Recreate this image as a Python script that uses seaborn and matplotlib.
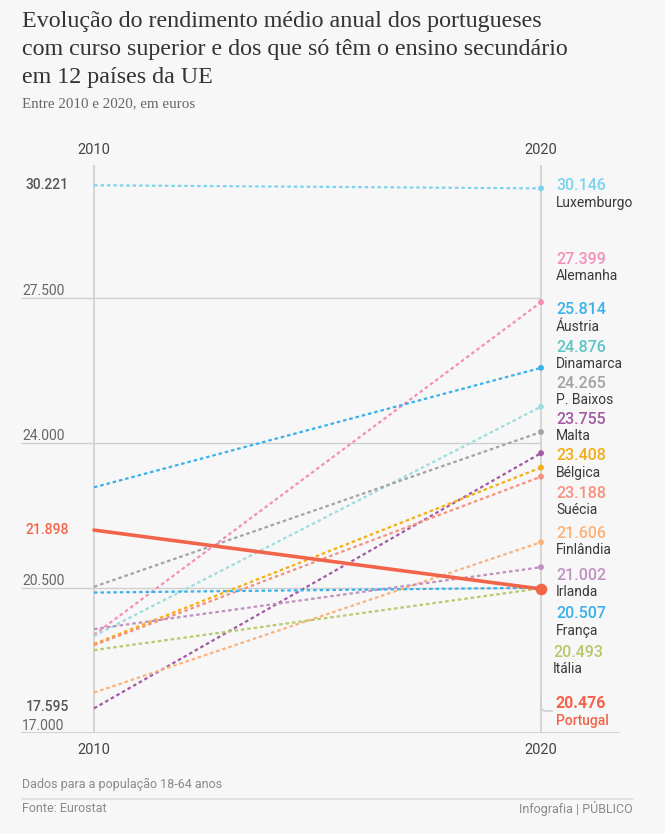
import matplotlib
matplotlib.use("Agg")
import matplotlib.pyplot as plt
import seaborn as sns
import pandas as pd
from matplotlib.path import Path
from matplotlib.patches import PathPatch

# ---------------- data ----------------
paises = ["Luxemburgo", "Alemanha", "Áustria", "Dinamarca", "P. Baixos", "Malta",
          "Bélgica", "Suécia", "Finlândia", "Irlanda", "França", "Itália", "Portugal"]
valores_2010 = [30221, 19370, 22930, 19340, 20530, 17595,
                19150, 19120, 17975, 19510, 20390, 19000, 21898]
valores_2020 = [30146, 27399, 25814, 24876, 24265, 23755,
                23408, 23188, 21606, 21002, 20507, 20493, 20476]
anos = [2010, 2020]
grelha = [17000, 20500, 24000, 27500]
grelha_labels = ["17.000", "20.500", "24.000", "27.500"]

cores_texto = {"Luxemburgo": "#7fd2ee", "Alemanha": "#f58fb9", "Áustria": "#3ab1ea",
               "Dinamarca": "#5cc4c6", "P. Baixos": "#a3a3a3", "Malta": "#a25aa1",
               "Bélgica": "#f1ae1c", "Suécia": "#f6917f", "Finlândia": "#fbb27a",
               "Irlanda": "#c190c2", "França": "#3ab1ea", "Itália": "#b6c96b",
               "Portugal": "#f2644a"}
cores_linha = dict(cores_texto)
cores_linha["Dinamarca"] = "#9fdcdc"

# label positions (pixel rows of the value text) on the right
label_px = {"Luxemburgo": 186, "Alemanha": 259, "Áustria": 310, "Dinamarca": 347,
            "P. Baixos": 383, "Malta": 419, "Bélgica": 456, "Suécia": 493,
            "Finlândia": 533, "Irlanda": 575, "França": 614, "Itália": 652,
            "Portugal": 704}

def fmt(v):
    return f"{v:,}".replace(",", ".")

rows = []
for p, a, b in zip(paises, valores_2010, valores_2020):
    rows.append({"pais": p, "ano": 2010, "valor": a})
    rows.append({"pais": p, "ano": 2020, "valor": b})
df = pd.DataFrame(rows)

# ---------------- figure ----------------
W, H = 665, 834
BG = "#f7f7f7"
sns.set_theme(style="white")
plt.rcParams["font.family"] = ["Roboto", "DejaVu Sans"]
fig = plt.figure(figsize=(W / 100, H / 100), dpi=100, facecolor=BG)

def fx(px):
    return px / W

def fy(py):
    return 1 - py / H

# axes: pixel x 21..620, y 150..733
ax_l, ax_r, ax_t, ax_b = 21, 620, 150, 733
ax = fig.add_axes([fx(ax_l), fy(ax_b), (ax_r - ax_l) / W, (ax_b - ax_t) / H])
ax.set_facecolor(BG)
pxyr = (541 - 94) / 10.0
x0 = 2010 - (94 - ax_l) / pxyr
x1 = 2020 + (ax_r - 541) / pxyr
ppk = (733 - 298) / 10.5  # pixels per 1000
y0 = 17000
y1 = 17000 + (ax_b - ax_t) / ppk * 1000
for s in ax.spines.values():
    s.set_visible(False)

def px2val(py):
    return 17000 + (733 - py) / ppk * 1000

# gridlines
for g, gl in zip(grelha, grelha_labels):
    xe = x1 if g == 17000 else 2020
    ax.hlines(g, x0, xe, color="#cfcfcf", lw=1.3 if g == 17000 else 1.0, zorder=1)
    ax.text(x0 + 0.02, g + 10, gl, ha="left", va="bottom", fontsize=10,
            color="#666666", zorder=2)

# vertical year lines
ytop = px2val(165)
ax.vlines([2010, 2020], 17000, ytop, color="#d2d2d2", lw=1.3, zorder=1)

# lines
dashes = {p: (1.6, 1.3) for p in paises}
dashes["Portugal"] = ""
sizes = {p: 1.6 for p in paises}
sizes["Portugal"] = 2.6
sns.lineplot(data=df, x="ano", y="valor", hue="pais", style="pais", size="pais",
             palette=cores_linha, dashes=dashes, sizes=sizes, legend=False,
             ax=ax, zorder=3)

end = df[df["ano"] == 2020]
sns.scatterplot(data=end[end["pais"] != "Portugal"], x="ano", y="valor", hue="pais",
                palette=cores_linha, s=18, linewidth=0, legend=False, ax=ax, zorder=4)
sns.scatterplot(data=end[end["pais"] == "Portugal"], x="ano", y="valor", hue="pais",
                palette=cores_linha, s=70, linewidth=0, legend=False, ax=ax, zorder=5)
ax.set_xlim(x0, x1)
ax.set_ylim(y0, y1)
ax.set_xticks([])
ax.set_yticks([])
ax.set_xlabel("")
ax.set_ylabel("")

# right labels
xl = 2020 + (556 - 541) / pxyr
for p, v in zip(paises, valores_2020):
    py = label_px[p]
    xx = xl - (3 / pxyr if p == "Itália" else 0)
    ax.text(xx, px2val(py), fmt(v), ha="left", va="center", fontsize=11.5,
            fontweight="bold" if p == "Portugal" else "medium",
            color=cores_texto[p], zorder=6)
    ax.text(xx, px2val(py + 17), p, ha="left", va="center", fontsize=10,
            color=cores_texto["Portugal"] if p == "Portugal" else "#3a3a3a",
            fontweight="medium" if p == "Portugal" else "normal", zorder=6)

# hook to Portugal label
verts = [(2020, px2val(695)), (2020, px2val(706)), (2020, px2val(711)),
         (2020 + 5 / pxyr, px2val(711)), (2020 + 12 / pxyr, px2val(711))]
ax.add_patch(PathPatch(Path(verts, [Path.MOVETO, Path.LINETO, Path.CURVE3, Path.CURVE3,
                                    Path.LINETO]),
                       fill=False, edgecolor="#cfcfcf", lw=1.2, zorder=2))

# left highlighted values
xlft = 2010 - (94 - 69) / pxyr
ax.text(xlft, 30221, "30.221", ha="right", va="center", fontsize=10,
        fontweight="medium", color="#555555")
ax.text(xlft, 21898, "21.898", ha="right", va="center", fontsize=10,
        fontweight="medium", color="#f2644a")
ax.text(xlft, px2val(707), "17.595", ha="right", va="center", fontsize=10,
        fontweight="medium", color="#555555")

# year labels
for yr in anos:
    xp = 94 if yr == 2010 else 541
    fig.text(fx(xp), fy(150), str(yr), ha="center", va="center", fontsize=10.5, color="#444444")
    fig.text(fx(xp), fy(750), str(yr), ha="center", va="center", fontsize=10.5, color="#444444")

# titles
title_lines = ["Evolução do rendimento médio anual dos portugueses",
               "com curso superior e dos que só têm o ensino secundário",
               "em 12 países da UE"]
for i, t in enumerate(title_lines):
    fig.text(fx(22), fy(22 + 27.5 * i), t, ha="left", va="center", fontsize=17.3,
             family=["Liberation Serif", "DejaVu Serif"], color="#333333")
fig.text(fx(22), fy(104), "Entre 2010 e 2020, em euros", ha="left", va="center",
         fontsize=10.8, family=["Liberation Serif", "DejaVu Serif"], color="#666666")

# footer
fig.text(fx(22), fy(784), "Dados para a população 18-64 anos", ha="left", va="center",
         fontsize=9, color="#8a8a8a")
fig.add_artist(plt.Line2D([fx(22), fx(633)], [fy(799), fy(799)], color="#e0e0e0", lw=1.2))
fig.text(fx(22), fy(808), "Fonte: Eurostat", ha="left", va="center", fontsize=9, color="#8a8a8a")
fig.text(fx(633), fy(808), "Infografia | PÚBLICO", ha="right", va="center", fontsize=9,
         color="#8a8a8a")

fig.savefig("out.png", dpi=100, facecolor=BG)
